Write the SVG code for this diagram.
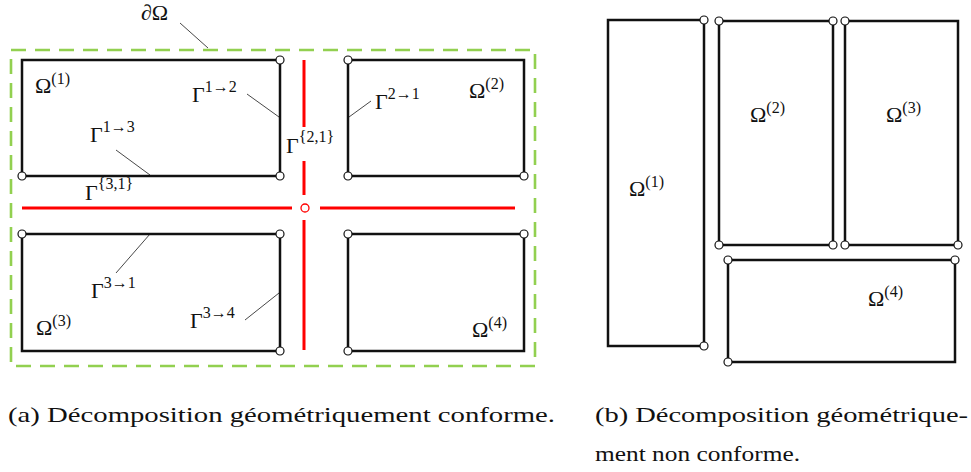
<svg xmlns="http://www.w3.org/2000/svg" width="971" height="472" viewBox="0 0 971 472">
<style>
.dom{fill:none;stroke:#111;stroke-width:2.5}
.pt{fill:#fff;stroke:#111;stroke-width:1.2}
.red{stroke:#ff0000;stroke-width:3;fill:none}
.lead{stroke:#333;stroke-width:0.9;fill:none}
.m{font-family:"Liberation Serif","DejaVu Serif",serif;font-size:22px;fill:#111}
.s{font-size:16px}
.cap{font-family:"Liberation Serif","DejaVu Serif",serif;font-size:21px;fill:#111}
</style>
<rect width="971" height="472" fill="#fff"/>
<g id="boundary">
<rect x="11" y="50" width="524" height="316" fill="none" stroke="#92d050" stroke-width="2.6" stroke-dasharray="15,9"/>
<text class="m" x="141" y="20">∂Ω</text>
</g>
<g id="connectors">
<path class="red" d="M304 60V127M304 161V195M304 220V350M22 208H292M320 208H515"/>
<circle cx="305" cy="208" r="4" fill="#fff" stroke="#ff0000" stroke-width="1.3"/>
<path class="lead" d="M180 23L208 48M247 94L279 117M116 150L150 175M371 101L349 117M116 273L150 234M245 320L279 293"/>
</g>
<g id="a-omega1">
<rect class="dom" x="22" y="60" width="258" height="116"/>
<circle class="pt" cx="280" cy="60" r="4"/><circle class="pt" cx="22" cy="176" r="4"/><circle class="pt" cx="280" cy="176" r="4"/>
<text class="m" x="35" y="93">Ω<tspan class="s" dy="-9">(1)</tspan></text>
</g>
<g id="a-omega2">
<rect class="dom" x="348" y="60" width="176" height="116"/>
<circle class="pt" cx="348" cy="60" r="4"/><circle class="pt" cx="348" cy="176" r="4"/><circle class="pt" cx="524" cy="176" r="4"/>
<text class="m" x="469" y="98">Ω<tspan class="s" dy="-9">(2)</tspan></text>
</g>
<g id="a-omega3">
<rect class="dom" x="22" y="234" width="258" height="117"/>
<circle class="pt" cx="22" cy="234" r="4"/><circle class="pt" cx="280" cy="234" r="4"/><circle class="pt" cx="280" cy="351" r="4"/>
<text class="m" x="36" y="335">Ω<tspan class="s" dy="-9">(3)</tspan></text>
</g>
<g id="a-omega4">
<rect class="dom" x="348" y="234" width="176" height="117"/>
<circle class="pt" cx="348" cy="234" r="4"/><circle class="pt" cx="524" cy="234" r="4"/><circle class="pt" cx="348" cy="351" r="4"/>
<text class="m" x="472" y="337">Ω<tspan class="s" dy="-9">(4)</tspan></text>
</g>
<g id="interface-labels">
<text class="m" x="192" y="102">Γ<tspan class="s" dy="-10">1→2</tspan></text>
<text class="m" x="90" y="142">Γ<tspan class="s" dy="-10">1→3</tspan></text>
<text class="m" x="286" y="153">Γ<tspan class="s" dy="-11">{2,1}</tspan></text>
<text class="m" x="85" y="200">Γ<tspan class="s" dy="-11">{3,1}</tspan></text>
<text class="m" x="375" y="109">Γ<tspan class="s" dy="-10">2→1</tspan></text>
<text class="m" x="91" y="298">Γ<tspan class="s" dy="-10">3→1</tspan></text>
<text class="m" x="190" y="328">Γ<tspan class="s" dy="-10">3→4</tspan></text>
</g>
<g id="b-omega1">
<rect class="dom" x="608" y="20" width="96" height="326"/>
<circle class="pt" cx="704" cy="20" r="4"/><circle class="pt" cx="704" cy="346" r="4"/>
<text class="m" x="629" y="196">Ω<tspan class="s" dy="-9">(1)</tspan></text>
</g>
<g id="b-omega2">
<rect class="dom" x="719" y="21" width="114" height="224"/>
<circle class="pt" cx="719" cy="21" r="4"/><circle class="pt" cx="833" cy="21" r="4"/><circle class="pt" cx="719" cy="245" r="4"/><circle class="pt" cx="833" cy="245" r="4"/>
<text class="m" x="750" y="122">Ω<tspan class="s" dy="-9">(2)</tspan></text>
</g>
<g id="b-omega3">
<rect class="dom" x="845" y="21" width="113" height="224"/>
<circle class="pt" cx="845" cy="21" r="4"/><circle class="pt" cx="845" cy="245" r="4"/><circle class="pt" cx="958" cy="245" r="4"/>
<text class="m" x="886" y="122">Ω<tspan class="s" dy="-9">(3)</tspan></text>
</g>
<g id="b-omega4">
<rect class="dom" x="728" y="260" width="227" height="102"/>
<circle class="pt" cx="728" cy="260" r="4"/><circle class="pt" cx="955" cy="260" r="4"/><circle class="pt" cx="728" cy="362" r="4"/>
<text class="m" x="868" y="306">Ω<tspan class="s" dy="-9">(4)</tspan></text>
</g>
<g id="captions">
<text class="cap" x="8" y="422" textLength="547" lengthAdjust="spacingAndGlyphs">(a) Décomposition géométriquement conforme.</text>
<text class="cap" x="595" y="422" textLength="373" lengthAdjust="spacingAndGlyphs">(b) Décomposition géométrique-</text>
<text class="cap" x="595" y="461" textLength="205" lengthAdjust="spacingAndGlyphs">ment non conforme.</text>
</g>
</svg>
